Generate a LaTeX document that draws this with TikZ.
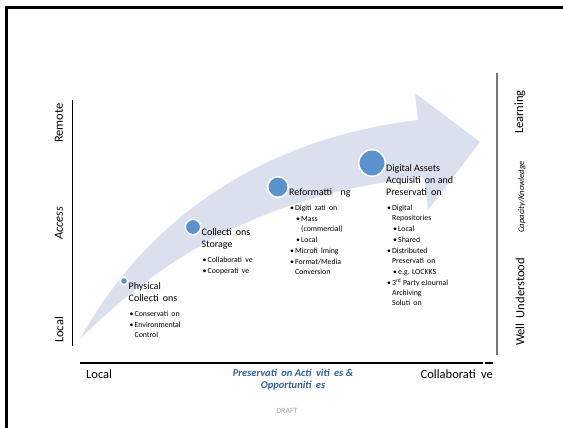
\documentclass[tikz,border=0pt]{standalone}
\usepackage{fontspec}
\setmainfont{Carlito}
\usepackage{xcolor}
\usetikzlibrary{positioning}
\definecolor{arrowfill}{RGB}{218,224,237}
\definecolor{dotblue}{RGB}{91,146,205}
\definecolor{noteblue}{RGB}{46,94,158}
\definecolor{draftgray}{RGB}{166,166,166}
\definecolor{rulegray}{RGB}{118,118,118}
\newcommand{\bul}{\makebox[5pt][l]{\textbullet}}
\newcommand{\subbul}{\hspace*{6pt}\bul}
\newcommand{\contA}{\hspace*{5pt}}
\newcommand{\contB}{\hspace*{11pt}}
\newcommand{\tg}{\hspace{0.42em}}
\tikzset{
  stage dot/.style={
    circle,
    fill=dotblue,
    draw=white,
    line width=1.5pt,
    minimum size={#1},
    inner sep=0pt,
  },
  stage title/.style={
    anchor=north west,
    inner sep=0pt,
    align=left,
    font=\fontsize{10}{12}\selectfont,
  },
  stage items/.style={
    anchor=north west,
    inner sep=0pt,
    align=left,
    font=\fontsize{7.8}{10}\selectfont,
  },
  axis label/.style={
    rotate=90,
    inner sep=0pt,
    font=\fontsize{12.5}{15}\selectfont,
  },
  bottom label/.style={
    inner sep=0pt,
    font=\fontsize{12.5}{15}\selectfont,
  }
}

\begin{document}
\begin{tikzpicture}[x=1pt, y=-1pt]
    \useasboundingbox (0,0) rectangle (563,428);
    \draw [line width=3pt] (6,428) -- (6,7.5) -- (563,7.5);

    % the big arrow
    \fill [arrowfill] (80,339) .. controls (140,230) and (250,140) .. (418,120)
        -- (415,93) -- (480,142) -- (428,210) -- (424,177)
        .. controls (250,195) and (150,270) .. (80,339) -- cycle;

    % axes
    \draw [line width=1pt] (72,100) -- (72,346);
    \draw [line width=1.5pt] (80,363) -- (483,363);
    \draw [line width=1.5pt] (485,363) -- (493,363);
    \draw [rulegray, line width=2.2pt] (497,73) -- (497,355);

    \node [axis label] (remote) at (59,123) {Remote};
    \node [axis label, font=\fontsize{12.5}{15}\selectfont\itshape] (access) at (59,223) {Access};
    \node [axis label] (local v) at (59,330) {Local};
    \node [axis label] (learning) at (520,112) {Learning};
    \node [axis label, font=\fontsize{8.5}{10}\selectfont\itshape] (capacity) at (522,197) {Capacity/Knowledge};
    \node [axis label] (well) at (520,302) {Well\tg Understood};

    \node [bottom label, anchor=base west] (local h) at (86,378) {Local};
    \node [bottom label, anchor=base east] (collab) at (493,378) {Collaborati\tg ve};
    \node [inner sep=0pt, align=center, anchor=north, text=noteblue,
        font=\fontsize{10.5}{12}\selectfont\bfseries\itshape] (activities) at (293,369)
        {Preservati\tg on Acti\tg viti\tg es \&\\Opportuniti\tg es};
    \node [inner sep=0pt, text=draftgray, font=\fontsize{8}{10}\selectfont] (draft) at (287,411) {DRAFT};

    % stages
    \node [stage dot=7.5pt] (phys) at (124,281) {};
    \node [stage title] (phys t) at (phys.east) {\strut Physical\\Collecti\tg ons\strut};
    \node [stage items] (phys l) at ([xshift=1pt, yshift=-3.9pt]phys t.south west)
        {\strut\bul Conservati\tg on\\[1pt]\bul Environmental\\\contA Control\strut};

    \node [stage dot=15.5pt] (store) at (193,227) {};
    \node [stage title] (store t) at (store.east) {\strut Collecti\tg ons\\Storage\strut};
    \node [stage items] (store l) at ([xshift=1pt, yshift=-3.9pt]store t.south west)
        {\strut\bul Collaborati\tg ve\\[1pt]\bul Cooperati\tg ve\strut};

    \node [stage dot=20.5pt] (reform) at (278,187) {};
    \node [stage title] (reform t) at (reform.east) {\strut Reformatti\tg\tg ng\strut};
    \node [stage items] (reform l) at ([xshift=1pt, yshift=-3.9pt]reform t.south west)
        {\strut\bul Digiti\tg zati\tg on\\[1pt]\subbul Mass\\\contB(commercial)\\[1pt]\subbul Local\\[1pt]%
         \bul Microfi\tg lming\\[1pt]\bul Format/Media\\\contA Conversion\strut};

    \node [stage dot=26.5pt] (digital) at (372,163) {};
    \node [stage title] (digital t) at (digital.east) {\strut Digital Assets\\Acquisiti\tg on and\\Preservati\tg on\strut};
    \node [stage items] (digital l) at ([xshift=1pt, yshift=-3.9pt]digital t.south west)
        {\strut\bul Digital\\\contA Repositories\\[1pt]\subbul Local\\[1pt]\subbul Shared\\[1pt]%
         \bul Distributed\\\contA Preservati\tg on\\[1pt]\subbul e.g. LOCKKS\\[1pt]%
         \bul 3\textsuperscript{rd} Party eJournal\\\contA Archiving\\\contA Soluti\tg on\strut};
\end{tikzpicture}
\end{document}
